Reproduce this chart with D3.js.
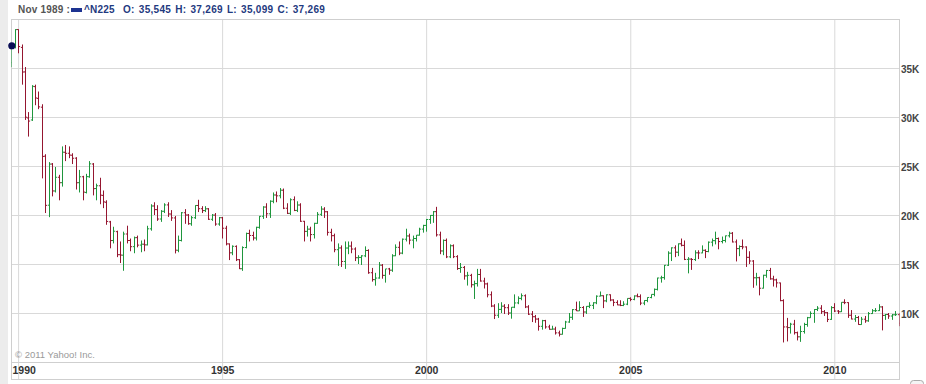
<!DOCTYPE html>
<html>
<head>
<meta charset="utf-8">
<script src="https://cdn.jsdelivr.net/npm/d3@7"></script>
<style>
    body { margin: 0; background: #fff; }
    svg text { font-family: Arial, "Liberation Sans", sans-serif; }
</style>
</head>
<body>
<div id="chart"></div>
<script>
// Nikkei 225 monthly bars, Nov 1989 .. Aug 2011
let firstMonth = [1989, 10];

let opens = [
    35545, 37300,
    38921, 37100, 34600, 29900, 29700, 33100, 31900, 31000, 26000, 21000, 25200, 22450,
    23850, 23300, 26400, 26300, 26100, 25800, 23300, 23900, 22300, 23900, 25200, 22700,
    22980, 22000, 21300, 19300, 17400, 18300, 15950, 15900, 18060, 17400, 16770, 17690,
    16930, 17020, 16950, 18590, 20920, 20550, 19590, 20380, 21030, 20100, 19700, 16400,
    17400, 20230, 20000, 19100, 19720, 20970, 20640, 20450, 20630, 19560, 19990, 19080,
    19720, 18650, 17050, 16140, 16800, 15440, 14520, 16680, 18120, 17910, 17650, 18740,
    19870, 20810, 20120, 21400, 22040, 21960, 22530, 20690, 20170, 21560, 20470, 21020,
    19360, 18330, 18560, 18000, 19150, 20070, 20600, 20330, 18230, 17890, 16460, 16640,
    15260, 16630, 16830, 16530, 15640, 15670, 15830, 16380, 14110, 13400, 13570, 14880,
    13840, 14500, 14370, 15840, 16700, 16110, 17530, 17860, 17440, 17600, 17940, 18560,
    18940, 19540, 19960, 20340, 17970, 16330, 17410, 15730, 16860, 15750, 14540, 14650,
    13790, 13840, 12880, 13000, 13930, 13260, 12970, 11860, 10710, 9770, 10370, 10700,
    10540, 10000, 10590, 11030, 11490, 11760, 10620, 9880, 9620, 9380, 8640, 9220,
    8580, 8340, 8360, 7970, 7830, 8430, 9080, 9560, 10340, 10220, 10560, 10100,
    10680, 10780, 11040, 11720, 11760, 11240, 11860, 11330, 11080, 10820, 10770, 10900,
    11490, 11390, 11740, 11670, 11010, 11280, 11580, 11900, 12410, 13570, 13610, 14870,
    16110, 16650, 16200, 17060, 16900, 15470, 15500, 15460, 16140, 16130, 16400, 16270,
    17230, 17380, 17600, 17290, 17400, 17880, 18140, 17250, 16570, 16790, 16740, 15680,
    15300, 13590, 13600, 12530, 13850, 14340, 13480, 13380, 13070, 11260, 8580, 8510,
    8860, 7990, 7570, 8110, 8830, 9520, 9960, 10360, 10490, 10130, 10030, 9350,
    10550, 10200, 10130, 11090, 11060, 9770, 9380, 9540, 8820, 9370, 9200, 9940,
    10230, 10240, 10620, 9760, 9850, 9690, 9820, 9830
];

let highs = [
    37269, 38957,
    38951, 37400, 35100, 30500, 33250, 33300, 32600, 31300, 26200, 25400, 25300, 24900,
    24100, 27000, 27146, 27000, 26300, 25900, 24600, 24000, 24200, 25500, 25300, 23200,
    23800, 22500, 21500, 19400, 18800, 18400, 17300, 18300, 18908, 17600, 17800, 17900,
    17400, 17500, 18900, 21100, 21300, 21000, 20500, 21200, 21300, 20500, 19900, 17900,
    20300, 20600, 20100, 19900, 21000, 21552, 20900, 20900, 20700, 20100, 20200, 19800,
    19800, 18900, 17100, 16900, 16900, 15500, 16800, 18200, 18500, 18300, 18800, 19900,
    20900, 21200, 21500, 22300, 22400, 22750, 22700, 21200, 21700, 21900, 21400, 21200,
    19400, 18900, 18800, 19200, 20300, 20900, 20800, 20400, 18600, 18100, 17100, 16900,
    17300, 17300, 17300, 16700, 15900, 15900, 16800, 16500, 14600, 14100, 15200, 15000,
    14500, 14600, 16000, 17000, 17300, 17600, 18600, 18100, 17900, 17950, 18700, 19000,
    19600, 20000, 20400, 20833, 18300, 17500, 17600, 17000, 17000, 15900, 15100, 14800,
    14200, 14000, 13300, 14500, 14500, 13600, 13100, 12200, 10900, 11000, 11100, 10900,
    10900, 10600, 11900, 11700, 12000, 11900, 10800, 10200, 9800, 9500, 9300, 9300,
    8800, 8700, 8600, 8200, 8500, 9200, 10000, 10400, 11160, 11200, 10700, 10700,
    11100, 11100, 11800, 12195, 11800, 11900, 11900, 11400, 11300, 11300, 11200, 11500,
    11600, 11800, 11975, 11900, 11300, 11600, 11900, 12500, 13600, 13800, 14900, 16300,
    16700, 16900, 17100, 17600, 17400, 15700, 15600, 16400, 16400, 16900, 16500, 17300,
    17600, 18300, 17700, 17800, 17900, 18300, 18262, 17500, 16900, 17500, 16800, 16300,
    15400, 14100, 13700, 13900, 14400, 14600, 13800, 13500, 13100, 11400, 9500, 9000,
    9300, 8100, 8700, 9000, 9600, 10170, 10400, 10700, 10800, 10300, 10100, 10700,
    11000, 10300, 11100, 11400, 11100, 10300, 9800, 9700, 9600, 9700, 10100, 10400,
    10500, 10900, 10700, 9900, 10000, 9900, 10200, 10000
];

let lows = [
    35099, 37000,
    36500, 33300, 29700, 28002, 29600, 31200, 30800, 23737, 20200, 19781, 21900, 22300,
    21500, 22900, 25500, 25800, 25200, 22600, 22300, 21500, 22200, 23800, 22000, 21500,
    21100, 20700, 19000, 16600, 17100, 15700, 15100, 14309, 17100, 16300, 16100, 16700,
    16200, 16300, 16900, 18400, 20000, 19400, 19300, 20200, 19800, 19400, 16078, 16200,
    17300, 19100, 19000, 18900, 19600, 20300, 20200, 20300, 19500, 19400, 18900, 18900,
    17600, 16900, 15400, 15900, 15300, 14485, 14300, 16600, 17300, 17400, 17400, 18600,
    19600, 19700, 19700, 21200, 21300, 21700, 20600, 20100, 20000, 20400, 20300, 19300,
    17300, 17800, 17300, 17600, 19100, 19900, 19700, 17900, 17300, 16200, 14800, 14700,
    14500, 16000, 16100, 15300, 15000, 14900, 15700, 14000, 13200, 12787, 13500, 13500,
    13100, 13900, 14200, 15800, 15900, 16000, 17300, 17000, 16600, 17300, 17900, 18200,
    18300, 19100, 19200, 17800, 16000, 15900, 15600, 15600, 15600, 14400, 14100, 13400,
    12800, 12600, 11433, 12700, 13200, 12500, 11600, 10600, 9382, 9500, 10000, 9900,
    9800, 9420, 10500, 10900, 11300, 10500, 9800, 9075, 9000, 8200, 8300, 8400,
    8300, 8300, 7800, 7604, 7800, 8400, 9000, 9300, 10200, 10200, 9600, 9900,
    10500, 10400, 10900, 11700, 10500, 11100, 11200, 10700, 10800, 10700, 10700, 10800,
    11200, 11300, 11600, 10800, 10800, 11100, 11500, 11700, 12300, 13100, 13400, 14800,
    15300, 15700, 15800, 16800, 15400, 14045, 14400, 15300, 15500, 16100, 15600, 16200,
    16800, 17000, 16500, 17100, 17200, 17700, 17200, 15262, 15800, 16500, 14700, 15000,
    12573, 12800, 11800, 12500, 13600, 13400, 12700, 12600, 11200, 6995, 7100, 7900,
    7800, 7200, 7054, 7900, 8600, 9500, 9000, 10200, 9900, 9700, 9076, 9300,
    10100, 9900, 10100, 10900, 9500, 9350, 9100, 8800, 8800, 9000, 9100, 9900,
    10100, 10200, 8227, 9300, 9400, 9300, 9700, 8656
];

let closes = [
    37269, 38916,
    37189, 34591, 29980, 29584, 33131, 31940, 31035, 25978, 20984, 25194, 22454, 23849,
    23293, 26409, 26292, 26111, 25790, 23291, 23900, 22336, 23916, 25222, 22687, 22984,
    22023, 21339, 19346, 17391, 18348, 15951, 15910, 18061, 17399, 16767, 17684, 16925,
    17024, 16953, 18591, 20919, 20552, 19590, 20380, 21027, 20106, 19704, 16408, 17417,
    20229, 19997, 19112, 19725, 20974, 20644, 20449, 20629, 19564, 19990, 19076, 19723,
    18650, 17053, 16140, 16807, 15437, 14517, 16678, 18117, 17913, 17655, 18744, 19868,
    20813, 20125, 21407, 22041, 21956, 22531, 20693, 20167, 21556, 20467, 21020, 19361,
    18330, 18557, 18003, 19151, 20068, 20605, 20331, 18229, 17888, 16459, 16636, 15259,
    16628, 16832, 16527, 15641, 15671, 15831, 16379, 14108, 13406, 13565, 14884, 13842,
    14500, 14368, 15837, 16702, 16112, 17530, 17862, 17437, 17605, 17943, 18558, 18934,
    19540, 19960, 20337, 17974, 16332, 17411, 15728, 16861, 15747, 14539, 14649, 13786,
    13844, 12884, 12999, 13934, 13262, 12969, 11861, 10714, 9775, 10366, 10697, 10543,
    9998, 10587, 11025, 11493, 11764, 10622, 9878, 9619, 9383, 8640, 9216, 8579,
    8340, 8363, 7973, 7831, 8425, 9083, 9563, 10344, 10219, 10560, 10101, 10677,
    10784, 11042, 11715, 11762, 11236, 11859, 11326, 11082, 10824, 10771, 10899, 11489,
    11388, 11741, 11669, 11009, 11277, 11584, 11900, 12414, 13574, 13607, 14872, 16111,
    16650, 16205, 17060, 16906, 15467, 15505, 15457, 16141, 16128, 16399, 16274, 17226,
    17383, 17604, 17288, 17400, 17876, 18138, 17249, 16569, 16786, 16738, 15681, 15308,
    13592, 13603, 12526, 13850, 14339, 13481, 13377, 13073, 11260, 8577, 8512, 8860,
    7994, 7568, 8110, 8828, 9523, 9958, 10357, 10493, 10133, 10035, 9346, 10546,
    10198, 10126, 11090, 11057, 9769, 9383, 9537, 8824, 9369, 9202, 9937, 10229,
    10238, 10624, 9755, 9850, 9694, 9816, 9833, 8955
];

let priceTicks = [10000, 15000, 20000, 25000, 30000, 35000];
let yearTicks = [1990, 1995, 2000, 2005, 2010];

// header readout (cursor on first bar)
let headerLabel = "Nov 1989 :";
let headerSymbol = "^N225";
let headerValues = "O: 35,545 H: 37,269 L: 35,099 C: 37,269";

function priceChart(){
    // SVG Setup Details
    let W = 926, H = 384;
    let plot = {"left": 11, "right": 899, "top": 19, "bottom": 362, "axisBottom": 379};

    let svg = d3.select("#chart").append("svg")
        .attr("width", W)
        .attr("height", H);

    // grey strip on the left edge
    svg.append("rect").attr("x", 0).attr("y", 0).attr("width", 8).attr("height", H)
        .attr("fill", "#ececec");

    let x = d3.scaleTime()
        .domain([new Date(1990, 0, 1), new Date(2010, 0, 1)])
        .range([18.1, 834.3]);
    let y = d3.scaleLinear()
        .domain([5000, 40000])
        .range([plot.bottom, plot.top]);

    let bars = opens.map((o, i) => ({
        date: new Date(firstMonth[0], firstMonth[1] + i, 1),
        o: o, h: highs[i], l: lows[i], c: closes[i]
    }));

    // Gridlines
    svg.append("g")
        .attr("transform", "translate(" + plot.left + ",0)")
        .call(d3.axisRight(y).tickValues(priceTicks).tickSize(plot.right - plot.left).tickFormat(""))
        .call(g => g.select(".domain").remove())
        .selectAll("line").attr("stroke", "#d9d9d9");

    svg.append("g")
        .attr("transform", "translate(0," + plot.top + ")")
        .call(d3.axisBottom(x).tickValues(yearTicks.map(yr => new Date(yr, 0, 1)))
            .tickSize(plot.axisBottom - plot.top).tickFormat(""))
        .call(g => g.select(".domain").remove())
        .selectAll("line").attr("stroke", "#d9d9d9");

    // frame
    let frame = svg.append("g").attr("stroke", "#cfcfcf").attr("fill", "none");
    frame.append("rect")
        .attr("x", plot.left + 0.5).attr("y", plot.top + 0.5)
        .attr("width", plot.right - plot.left).attr("height", plot.axisBottom - plot.top);
    frame.append("line")
        .attr("x1", plot.left).attr("x2", plot.right + 0.5)
        .attr("y1", plot.bottom + 0.5).attr("y2", plot.bottom + 0.5);

    // OHLC bars
    svg.append("clipPath").attr("id", "clip")
        .append("rect").attr("x", plot.left + 0.5).attr("y", plot.top)
        .attr("width", plot.right - plot.left).attr("height", plot.bottom - plot.top);

    let tick = 1.6;
    let bar = svg.append("g").attr("clip-path", "url(#clip)")
        .selectAll("g.bar")
        .data(bars)
        .enter().append("g")
        .attr("class", "bar")
        .attr("stroke", d => d.c >= d.o ? "#1f963d" : "#951630")
        .attr("stroke-width", 1);

    bar.append("line")
        .attr("x1", d => Math.round(x(d.date)) + 0.5).attr("x2", d => Math.round(x(d.date)) + 0.5)
        .attr("y1", d => y(d.h)).attr("y2", d => y(d.l));
    bar.append("line")
        .attr("x1", d => Math.round(x(d.date)) + 0.5 - tick).attr("x2", d => Math.round(x(d.date)) + 0.5)
        .attr("y1", d => y(d.o)).attr("y2", d => y(d.o));
    bar.append("line")
        .attr("x1", d => Math.round(x(d.date)) + 0.5).attr("x2", d => Math.round(x(d.date)) + 0.5 + tick)
        .attr("y1", d => y(d.c)).attr("y2", d => y(d.c));

    // cursor marker on the first bar
    svg.append("circle")
        .attr("cx", x(bars[0].date) + 0.5).attr("cy", y(bars[0].c))
        .attr("r", 3.6).attr("fill", "#0b0f55");

    // Price axis (right)
    svg.append("g")
        .attr("transform", "translate(" + plot.right + ",0)")
        .call(d3.axisRight(y).tickValues(priceTicks).tickSize(0).tickPadding(2)
            .tickFormat(d => d / 1000 + "K"))
        .call(g => g.select(".domain").remove())
        .selectAll("text")
        .attr("fill", "#444").attr("font-size", 10).attr("font-weight", "bold")
        .attr("font-family", "Arial, 'Liberation Sans', sans-serif")
        .attr("dy", "0.4em");

    // Year axis (bottom)
    let xAxis = svg.append("g")
        .attr("transform", "translate(0," + plot.bottom + ")")
        .call(d3.axisBottom(x).tickValues(yearTicks.map(yr => new Date(yr, 0, 1)))
            .tickSize(0).tickPadding(5).tickFormat(d3.timeFormat("%Y")))
        .call(g => g.select(".domain").remove());
    xAxis.selectAll("text")
        .attr("fill", "#333").attr("font-size", 10.5).attr("font-weight", "bold")
        .attr("font-family", "Arial, 'Liberation Sans', sans-serif");
    // first label hugs the left edge
    xAxis.selectAll("text").filter((d, i) => i === 0)
        .attr("text-anchor", "start")
        .attr("x", plot.left + 1 - x(new Date(1990, 0, 1)));

    // copyright
    svg.append("text")
        .attr("x", 15).attr("y", 358)
        .attr("font-size", 9.5).attr("fill", "#9a9a9a")
        .text("\u00a9 2011 Yahoo! Inc.");

    // Header readout
    svg.append("text")
        .attr("x", 18).attr("y", 13)
        .attr("font-size", 10).attr("font-weight", "bold").attr("fill", "#555")
        .attr("letter-spacing", "0.2px")
        .text(headerLabel);
    svg.append("rect")
        .attr("x", 71).attr("y", 8).attr("width", 11).attr("height", 4)
        .attr("fill", "#1d3391");
    svg.append("text")
        .attr("x", 84).attr("y", 13)
        .attr("font-size", 10).attr("font-weight", "bold").attr("fill", "#1f3a80")
        .attr("letter-spacing", "0.2px")
        .text(headerSymbol);
    svg.append("text")
        .attr("x", 123).attr("y", 13)
        .attr("font-size", 10).attr("font-weight", "bold").attr("fill", "#1f3a80")
        .attr("letter-spacing", "0.3px").attr("word-spacing", "1px")
        .text(headerValues);

    // little scroll handle bottom right
    svg.append("rect")
        .attr("x", 910.5).attr("y", 380.5).attr("width", 13).attr("height", 8).attr("rx", 3)
        .attr("fill", "#f4f4f4").attr("stroke", "#aaa");
}

priceChart();
</script>
</body>
</html>
